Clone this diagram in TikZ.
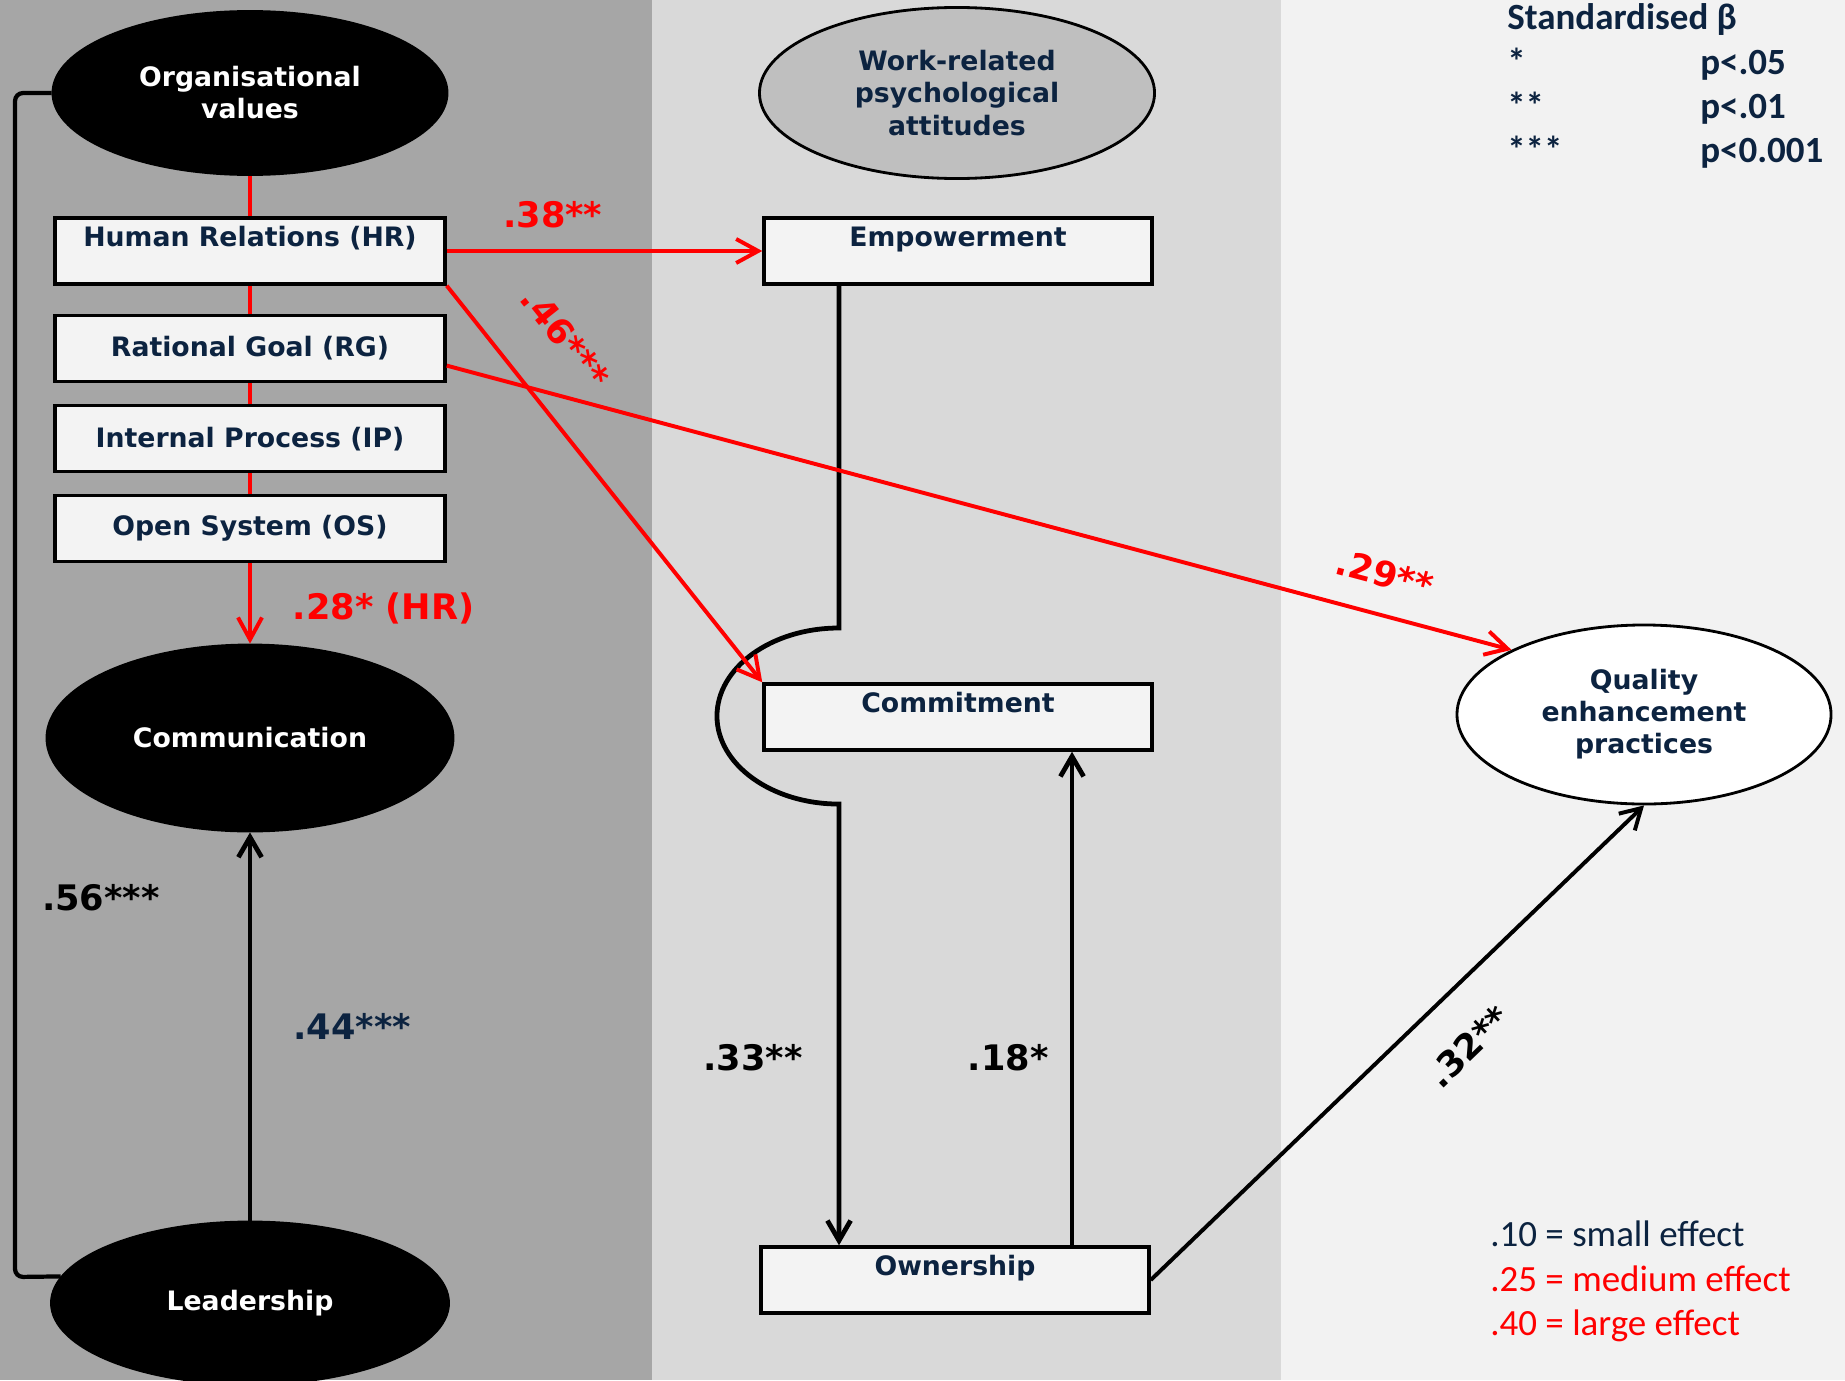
\documentclass[tikz,border=0pt]{standalone}
\usepackage{fontspec}
\setmainfont{DejaVu Sans}
\newfontfamily\keyfamily{Carlito}
\usetikzlibrary{
  arrows.meta,
  positioning,
  shapes.geometric
}
\definecolor{PanelDark}{RGB}{166,166,166}
\definecolor{PanelMid}{RGB}{217,217,217}
\definecolor{PanelLight}{RGB}{242,242,242}
\definecolor{BoxFill}{RGB}{243,243,243}
\definecolor{AttGray}{RGB}{191,191,191}
\definecolor{NavyText}{RGB}{12,35,64}
\definecolor{PathRed}{RGB}{255,0,0}
\newcommand{\boxfont}{\fontsize{19pt}{22.8pt}\selectfont\bfseries}
\newcommand{\coeffont}{\fontsize{25pt}{30pt}\selectfont\bfseries}
\newcommand{\keyfont}{\keyfamily\fontsize{26.3pt}{31pt}\selectfont}
\tikzset{
  latent/.style={ellipse,draw=black,fill=black,text=white,font=\boxfont,align=center,inner sep=0pt,line width=2pt},
  attitude/.style={ellipse,draw=black,fill=AttGray,text=NavyText,font=\boxfont,align=center,inner sep=0pt,line width=2pt},
  outcome/.style={ellipse,draw=black,fill=white,text=NavyText,font=\boxfont,align=center,inner sep=0pt,line width=2pt},
  valuebox/.style={rectangle,draw=black,fill=BoxFill,text=NavyText,font=\boxfont,line width=2.4pt,minimum width=9.7cm,minimum height=1.65cm,inner sep=0pt},
  topbox/.style={valuebox,text height=0.5cm,text depth=0.75cm,inner ysep=0.2cm},
  redlink/.style={draw=PathRed,line width=2.8pt},
  redarrow/.style={redlink,-{Straight Barb[length=0.55cm,width=0.6cm]}},
  blackarrow/.style={draw=black,line width=3.4pt,-{Straight Barb[length=0.5cm,width=0.58cm]}},
  bracket/.style={draw=black,line width=3pt,rounded corners=0.2cm},
  coef/.style={font=\coeffont,inner sep=0pt},
  redcoef/.style={coef,text=PathRed},
  keytitle/.style={font=\keyfont\bfseries,text=NavyText,inner sep=0pt,anchor=base west},
  effect/.style={font=\keyfont,inner sep=0pt,anchor=base west}
}

\begin{document}
\begin{tikzpicture}[x=0.025cm,y=-0.025cm]
\useasboundingbox (0,0) rectangle (1845,1380);
% three panels
\fill[PanelDark] (0,0) rectangle (652,1380);
\fill[PanelMid] (652,0) rectangle (1281,1380);
\fill[PanelLight] (1281,0) rectangle (1845,1380);

% organisational side
\node[latent,minimum width=9.85cm,minimum height=4.075cm] (orgval) at (250,93) {Organisational\\values};
\node[topbox,minimum width=9.75cm] (hr) at (250,251) {Human Relations (HR)};
\node[valuebox,minimum width=9.75cm,below=0.7cm of hr] (rg) {Rational Goal (RG)};
\node[valuebox,minimum width=9.75cm,below=0.525cm of rg] (ip) {Internal Process (IP)};
\node[valuebox,minimum width=9.75cm,below=0.5cm of ip] (os) {Open System (OS)};
\node[latent,minimum width=10.15cm,minimum height=4.65cm] (commun) at (250,738) {Communication};
\node[latent,minimum width=9.925cm,minimum height=4.05cm] (leader) at (250,1303) {Leadership};

% attitudes
\node[attitude,minimum width=9.875cm,minimum height=4.275cm] (wra) at (957,93) {Work-related\\psychological\\attitudes};
\node[topbox] (empow) at (958,251) {Empowerment};
\node[topbox] (commit) at (958,717) {Commitment};
\node[topbox] (owner) at (955,1280) {Ownership};
\node[outcome,minimum width=9.35cm,minimum height=4.475cm] (qep) at (1644,714.5) {Quality\\enhancement\\practices};

\coordinate (bend) at (15,1277);
\coordinate (hop) at (839,628);
\coordinate (rise) at (1072,1000);

\foreach \upper/\lower in {orgval/hr,hr/rg,rg/ip,ip/os}
  \draw[redlink] (\upper) -- (\lower);
\draw[redarrow] (os) -- node[redcoef,pos=0.56,right=1.025cm] {.28* (HR)} (commun);
\draw[bracket] (orgval.west) -| node[coef,pos=0.84,right=0.625cm] {.56***} (bend) -- (leader.172);
\draw[blackarrow] (leader) -- node[coef,text=NavyText,right=1.025cm] {.44***} (commun);

\draw[blackarrow] (empow.south -| hop) -- (hop)
  arc[start angle=90,end angle=270,x radius=3.05cm,y radius=2.2cm]
  -- node[coef,pos=0.574,left=0.85cm] {.33**} (owner.north -| hop);
\draw[blackarrow] (owner.north -| rise) -- node[coef,pos=0.381,left=0.525cm] {.18*} (commit.south -| rise);
\draw[blackarrow,line width=2.8pt] (owner.east) -- node[coef,sloped,pos=0.571,below=0.92cm] {.32**} (qep.south);

\draw[redarrow] (hr) -- node[redcoef,pos=0.336,above=0.53cm] {.38**} (empow);
\draw[redarrow] (hr.south east) -- node[redcoef,sloped,pos=0.226,above=1.13cm] {.46***} (commit.north west);
\draw[redarrow] (rg.-5.2) -- node[redcoef,sloped,pos=0.871,above=0.635cm] {.29**} (qep.154);

% key
\node[keytitle] (keyhead) at (1507,30) {Standardised β};
\foreach \stars/\pval [count=\k] in {*/p<.05,**/p<.01,***/p<0.001} {
  \node[keytitle] (star\k) at (1507,30+44.3*\k) {\stars};
  \node[keytitle] (pval\k) at (1700,30+44.3*\k) {\pval};
}
\node[effect,text=NavyText] (small) at (1490,1246) {.10 = small effect};
\node[effect,text=PathRed] (medium) at (1490,1291) {.25 = medium effect};
\node[effect,text=PathRed] (large) at (1490,1335) {.40 = large effect};
\end{tikzpicture}
\end{document}
